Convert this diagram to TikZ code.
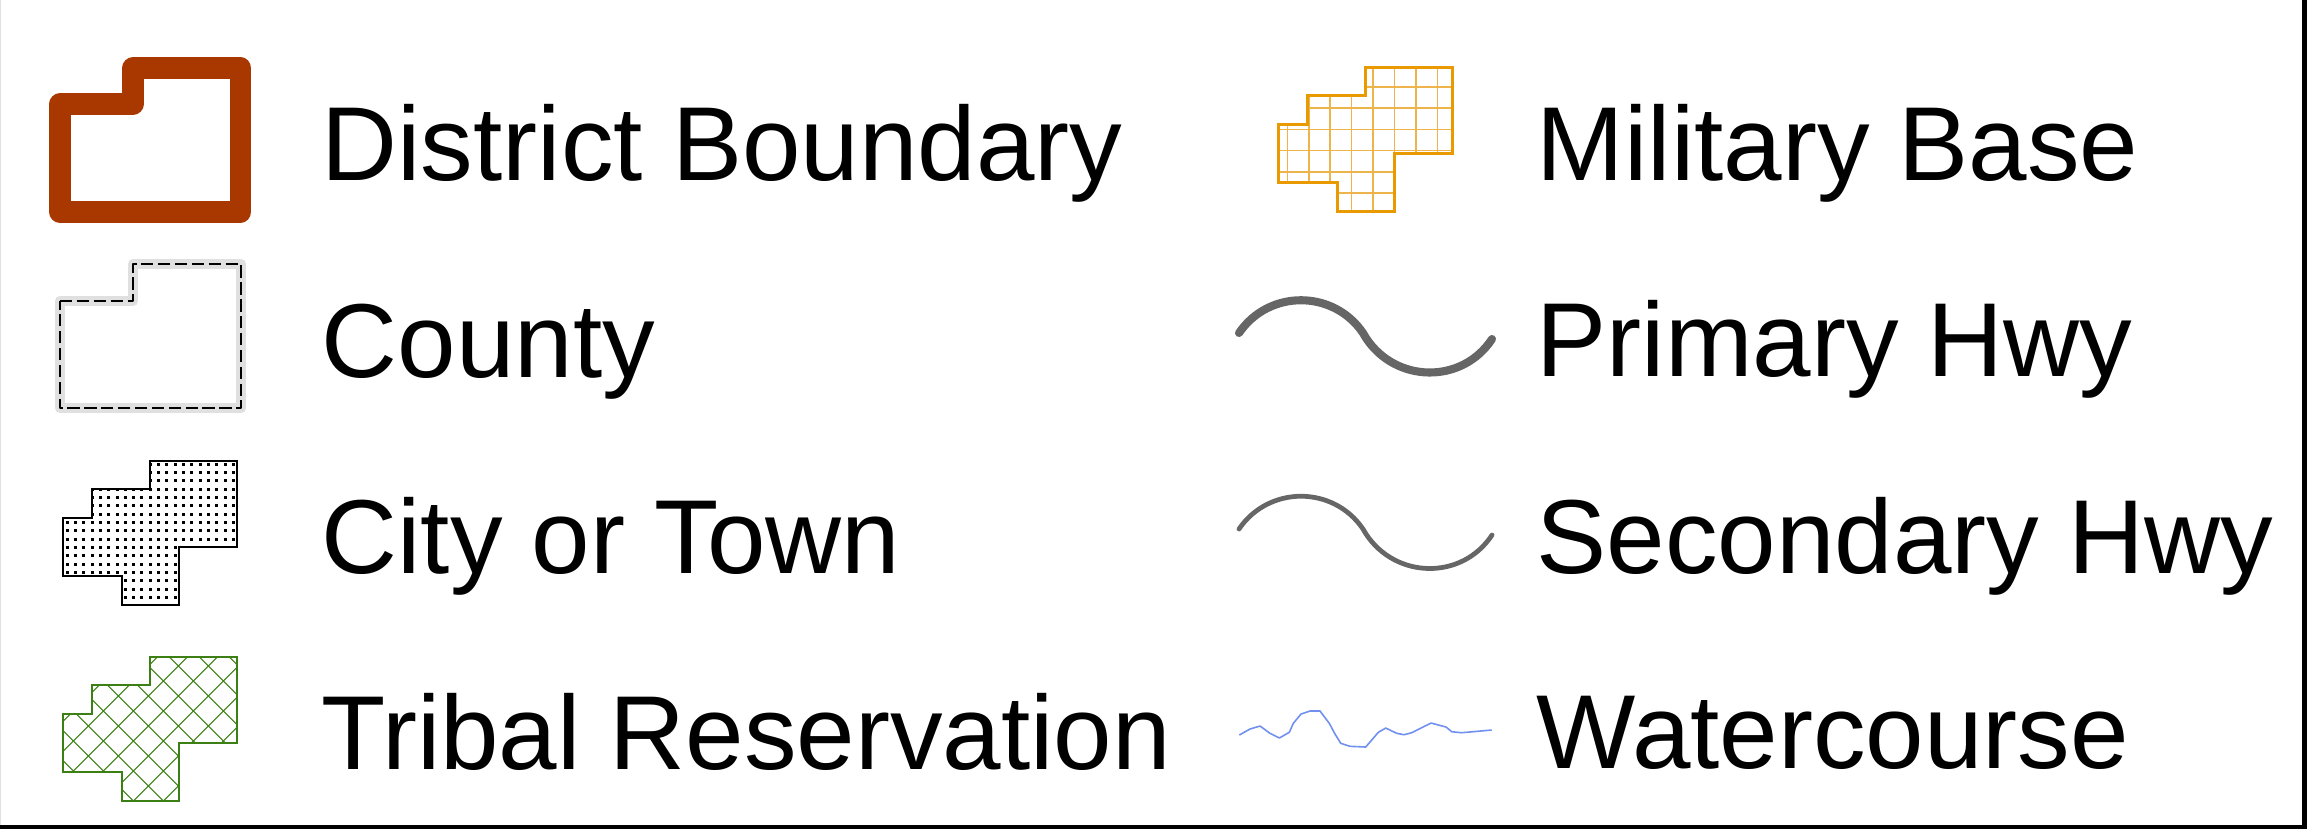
\documentclass[tikz,border=0pt]{standalone}
\usepackage{fontspec}
\setmainfont{Liberation Sans}
\definecolor{districtred}{HTML}{A83800}
\definecolor{countygray}{HTML}{E0E0E0}
\definecolor{tribalgreen}{HTML}{3C7F14}
\definecolor{baseorange}{HTML}{E89A00}
\definecolor{basegrid}{HTML}{EEB44C}
\definecolor{hwygray}{HTML}{666666}
\definecolor{waterblue}{HTML}{7090F0}
\newcommand{\blockshape}{(0,57) -- (29,57) -- (29,28) -- (87,28) -- (87,0) -- (174,0) -- (174,86) -- (116,86) -- (116,144) -- (59,144) -- (59,115) -- (0,115) -- cycle}
\begin{document}
\begin{tikzpicture}[x=0.01cm, y=-0.01cm,
        legend text/.style = {anchor = base west, inner sep = 0pt, font = \fontsize{29.9}{36}\selectfont},
        hwy/.style = {hwygray, line cap = round, line join = round}]
    \useasboundingbox (0,0) rectangle (2319,829);
    \draw[black!12, line width = 0.3pt] (0.5,0) -- (0.5,827);
    \draw[line width = 1.15pt] (0,827) -- (2306,827);
    \draw[line width = 1.4pt] (2304.5,0) -- (2304.5,829);
    \draw[districtred, line width = 6pt, line join = round] (60,104) -- (133,104) -- (133,68) -- (240.5,68) -- (240.5,212) -- (60,212) -- cycle;
    \begin{scope}[line join = round]
        \draw[countygray, line width = 3.1pt] (60,301) -- (133,301) -- (133,264) -- (241,264) -- (241,408) -- (60,408) -- cycle;
        \draw[line width = 0.45pt, dash pattern = on 3.5pt off 1.3pt] (60,301) -- (133,301) -- (133,264) -- (241,264) -- (241,408) -- (60,408) -- cycle;
    \end{scope}
    \begin{scope}[shift = {(63,461)}]
        \begin{scope}
            \clip \blockshape;
            \foreach \i in {0,...,21}
                \foreach \j in {0,...,17}
                    \fill (2.5+8.333*\i, 1.5+8.333*\j) rectangle ++(3,3);
        \end{scope}
        \draw[line width = 0.6pt] \blockshape;
    \end{scope}
    \begin{scope}[shift = {(63,657)}, tribalgreen]
        \begin{scope}
            \clip \blockshape;
            \foreach \k in {-8,...,9} {
                \draw[line width = 0.3pt] (-129.7+30*\k,-56) -- (120.3+30*\k,194);
                \draw[line width = 0.3pt] (20.3+30*\k,194) -- (270.3+30*\k,-56);
            }
        \end{scope}
        \draw[line width = 0.65pt] \blockshape;
    \end{scope}
    \begin{scope}[shift = {(1278.5,67.5)}]
        \begin{scope}
            \clip \blockshape;
            \foreach \k in {0,...,7}
                \draw[basegrid, line width = 0.45pt] (8.8+21.43*\k,0) -- (8.8+21.43*\k,144);
            \foreach \k in {0,...,6}
                \draw[basegrid, line width = 0.45pt] (0,19.2+21.3*\k) -- (174,19.2+21.3*\k);
        \end{scope}
        \draw[baseorange, line width = 0.65pt] \blockshape;
    \end{scope}
    \draw[hwy, line width = 2.3pt] (1239,333) .. controls (1268.7,289.3) and (1333.3,289.3) .. (1363,333) -- (1366,338) .. controls (1395.8,383.3) and (1462.2,384.3) .. (1492,339);
    \begin{scope}[shift = {(0,196)}]
        \draw[hwy, line width = 1.35pt] (1239,333) .. controls (1268.7,289.3) and (1333.3,289.3) .. (1363,333) -- (1366,338) .. controls (1395.8,383.3) and (1462.2,384.3) .. (1492,339);
    \end{scope}
    \draw[waterblue, line width = 0.45pt, line join = round] (1239.3,735) -- (1250,729) -- (1260,726) -- (1270,733.3) -- (1279.3,738) -- (1289.3,732.3) -- (1293.3,723.3) -- (1301,714) -- (1310,711) -- (1320,711) -- (1329.3,723.3) -- (1335,734) -- (1340.7,743.3) -- (1350,746.3) -- (1365.7,747) -- (1378.3,732.3) -- (1385.7,728) -- (1396.7,733.3) -- (1404,734.7) -- (1411.7,732.7) -- (1431,723) -- (1446,727) -- (1451.7,731.7) -- (1461.7,732.7) -- (1491.7,730);
    \begin{scope}[every node/.append style = {legend text}]
        \node (district) at (321,180) {District Boundary};
        \node (county) at (321,377) {County};
        \node (city) at (321,573) {City or Town};
        \node (tribal) at (321,769) {Tribal Reservation};
        \node (military) at (1536,180) {Military Base};
        \node (primary) at (1536,376) {Primary Hwy};
        \node (secondary) at (1536,573) {Secondary Hwy};
        \node (water) at (1536,768) {Watercourse};
    \end{scope}
\end{tikzpicture}
\end{document}
